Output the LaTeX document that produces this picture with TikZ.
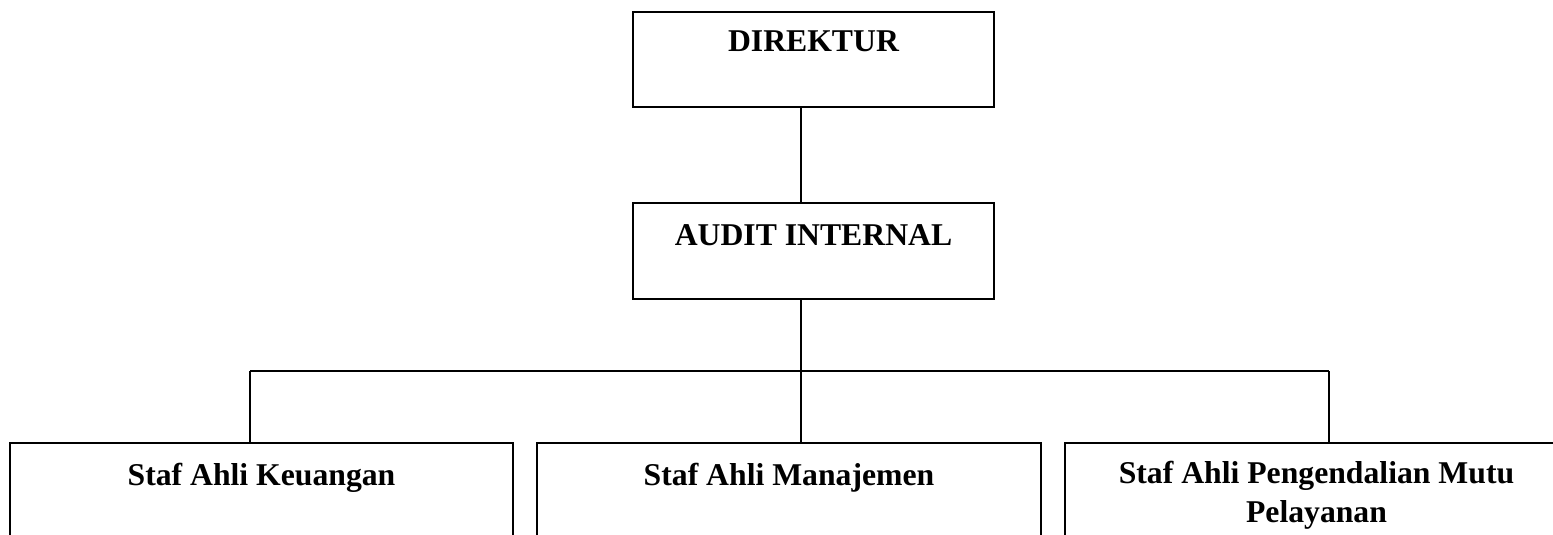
\documentclass[tikz,border=0pt]{standalone}
\usepackage{fontspec}
\setmainfont{Liberation Serif}
\begin{document}
\begin{tikzpicture}[x=1pt,y=-1pt,
  box/.style={draw=black, line width=2pt, rectangle, inner sep=0pt},
  lbl/.style={font=\fontsize{31.7pt}{39pt}\selectfont\bfseries, inner sep=0pt, anchor=base, align=center},
  conn/.style={draw=black, line width=2pt}]
\clip (0,0) rectangle (1553,535);
\fill[white] (0,0) rectangle (1553,535);
% boxes
\node[box, minimum width=361pt, minimum height=95pt] (dir) at (813.5,59.5) {};
\node[box, minimum width=361pt, minimum height=96pt] (aud) at (813.5,251) {};
\node[box, minimum width=503pt, minimum height=157pt] (keu) at (261.5,521.5) {};
\node[box, minimum width=504pt, minimum height=157pt] (man) at (789,521.5) {};
\node[box, minimum width=503pt, minimum height=157pt] (mutu) at (1316.5,521.5) {};
% labels
\node[lbl] (tdir) at (813.5,52) {DIREKTUR};
\node[lbl] (taud) at (813.5,245) {AUDIT INTERNAL};
\node[lbl] (tkeu) at (261.5,485) {Staf Ahli Keuangan};
\node[lbl] (tman) at (789,485) {Staf Ahli Manajemen};
\node[lbl] (tmutu) at (1316.5,522) {Staf Ahli Pengendalian Mutu\\Pelayanan};
% connectors
\coordinate (jc) at (801,371);
\coordinate (jl) at (250,371);
\coordinate (jr) at (1329,371);
\draw[conn] ([xshift=-12.5pt]dir.south) -- ([xshift=-12.5pt]aud.north);
\draw[conn] ([xshift=-12.5pt]aud.south) -- (jc);
\draw[conn] (jl) -- (jr);
\draw[conn] (jc) -- (man.north -| jc);
\draw[conn] (jl) -- (keu.north -| jl);
\draw[conn] (jr) -- (mutu.north -| jr);
\end{tikzpicture}
\end{document}
